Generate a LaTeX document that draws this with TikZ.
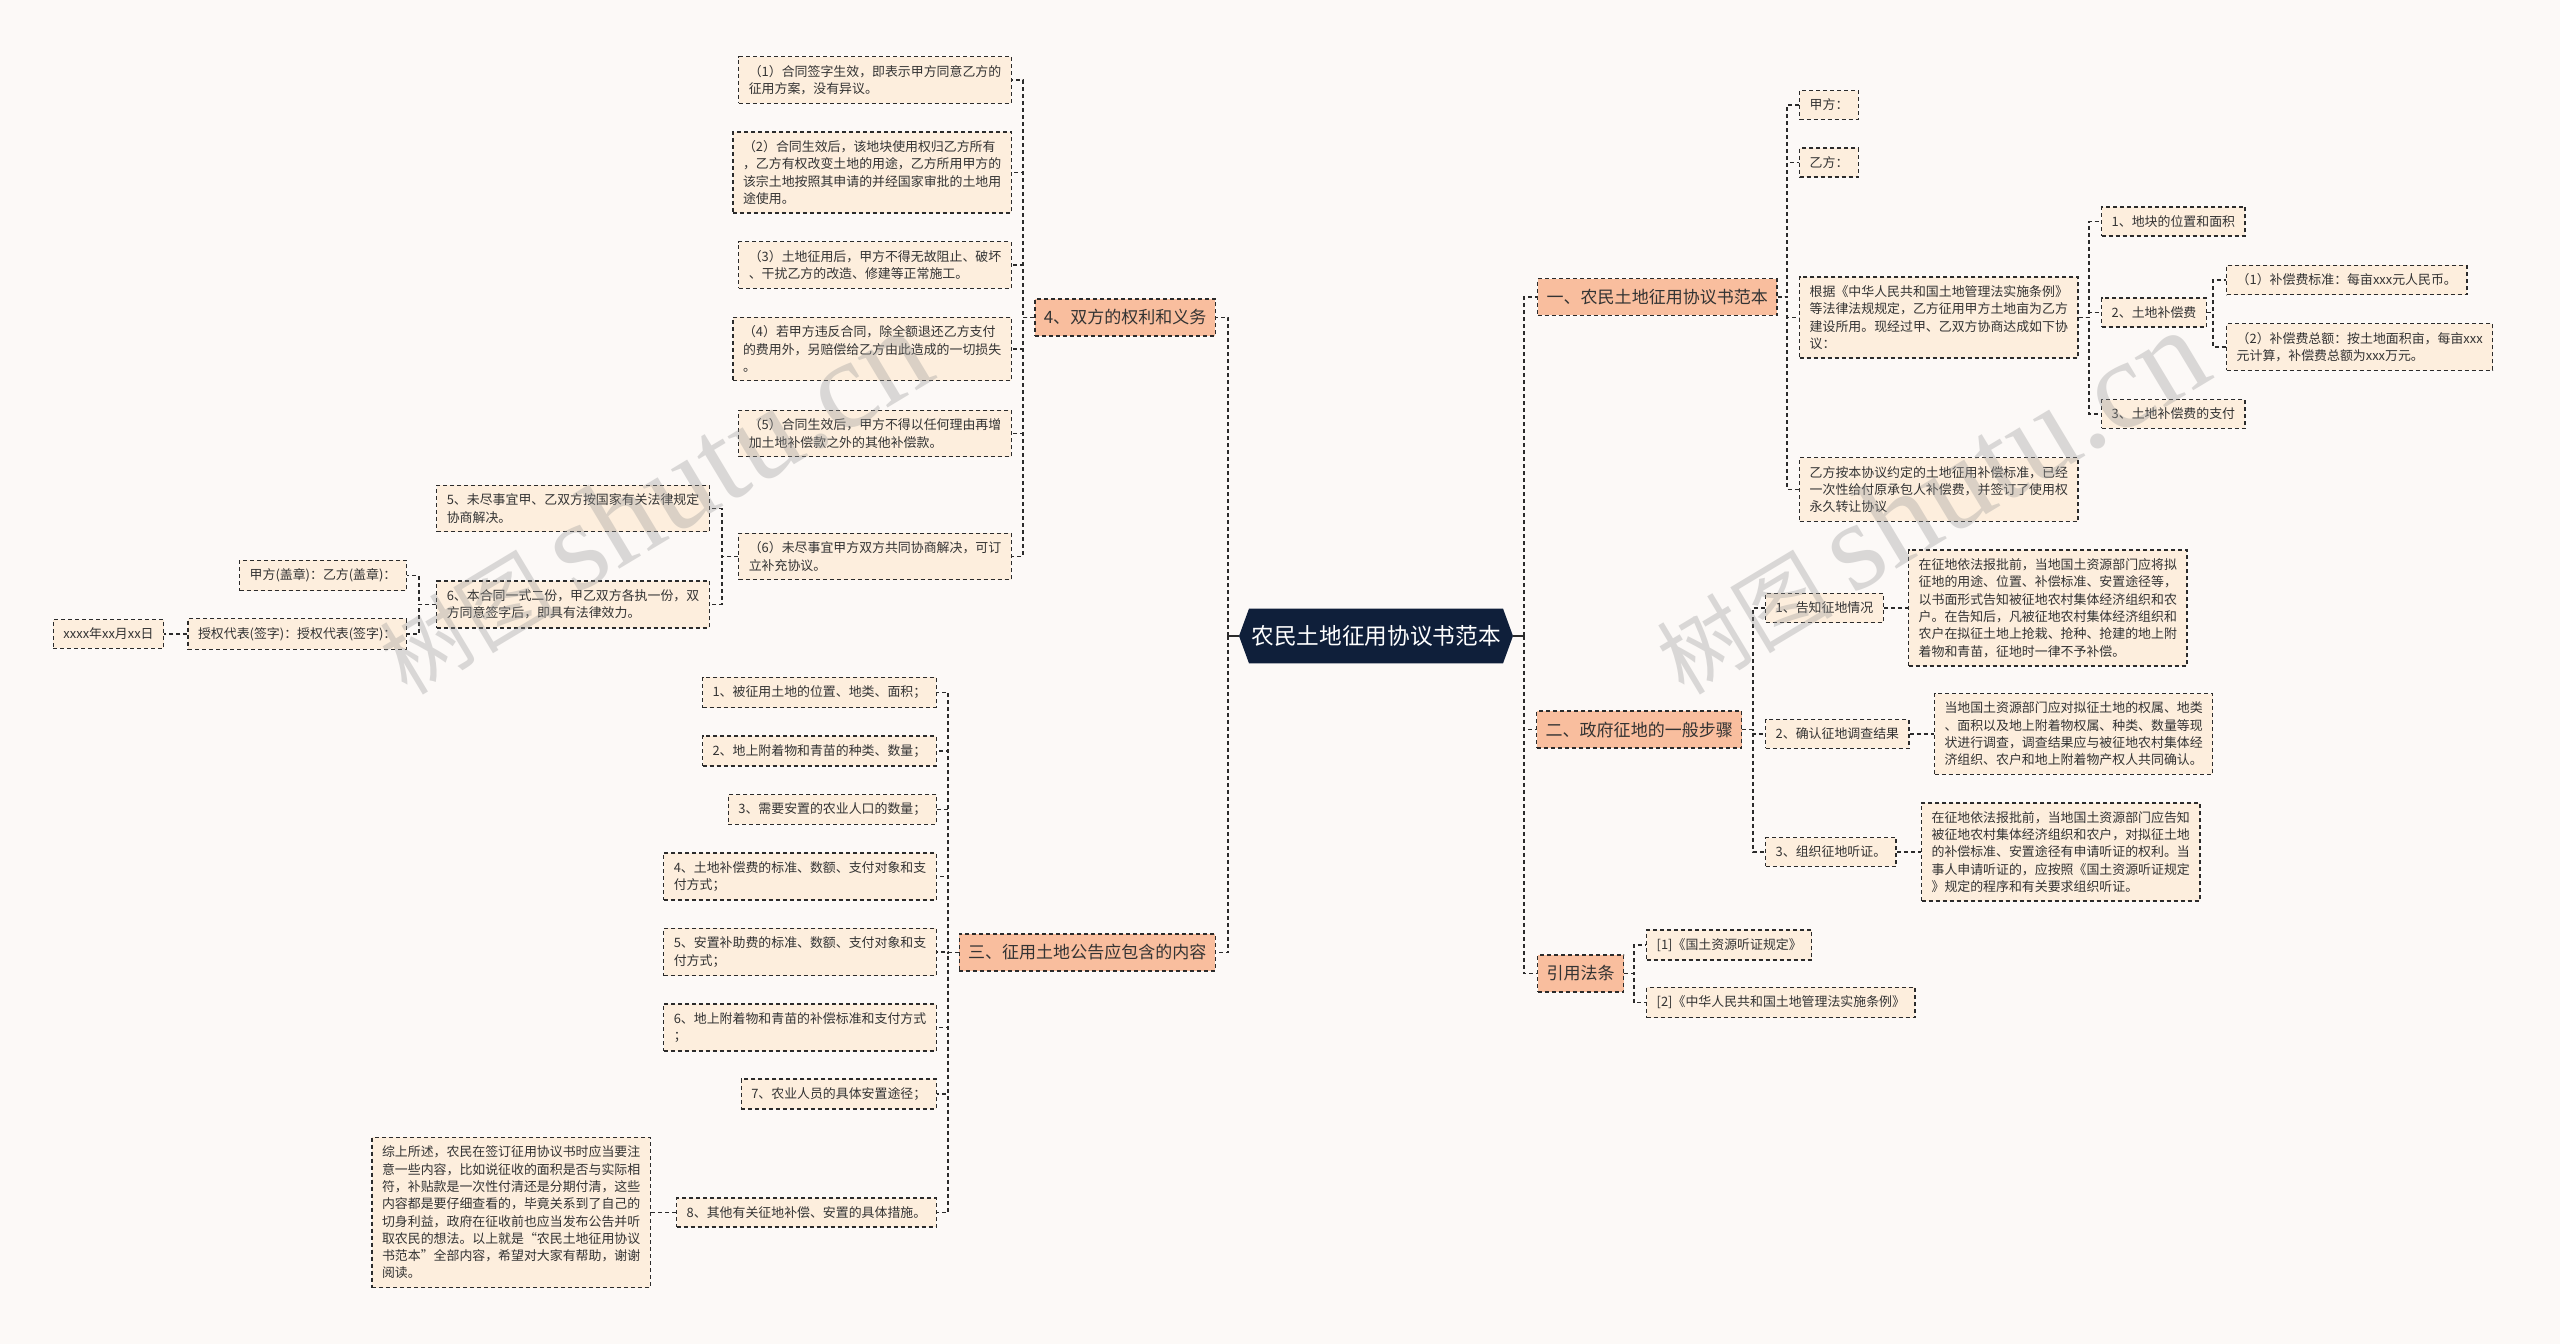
\documentclass[tikz,border=0pt]{standalone}
\usepackage{fontspec}
\setmainfont{Noto Sans CJK SC}
\newfontfamily\markfont{Liberation Serif}
\usetikzlibrary{shapes.symbols,positioning,calc}

\definecolor{paper}{HTML}{FCF9F7}
\definecolor{leaffill}{HTML}{FDEEDD}
\definecolor{topicfill}{HTML}{F9BE9E}
\definecolor{rootfill}{HTML}{0F1F3A}
\definecolor{inkline}{HTML}{2B2B2B}
\definecolor{inktext}{HTML}{333333}

\tikzset{
  leaf/.style={draw=inkline, dash pattern=on 0.08cm off 0.06cm, line width=0.8pt,
    fill=leaffill, text=inktext, align=left, inner xsep=0.2cm, inner ysep=0.17cm,
    font=\fontsize{7.35pt}{9.84pt}\selectfont},
  topic/.style={leaf, fill=topicfill, inner xsep=0.18cm, inner ysep=0.21cm,
    font=\fontsize{9.68pt}{11.5pt}\selectfont},
  rootbox/.style={signal, signal to=west and east, signal pointer angle=140,
    fill=rootfill, text=white, minimum width=5.48cm, minimum height=1.1cm,
    inner xsep=0pt, font=\fontsize{12.9pt}{14pt}\selectfont},
  link/.style={draw=inkline, dash pattern=on 0.08cm off 0.06cm, line width=0.8pt},
  rootlink/.style={draw=inkline, line width=1pt},
  wmark/.style={text=black!40, text opacity=0.35, rotate=31, inner sep=0pt}
}

\begin{document}
\begin{tikzpicture}[x=0.02cm, y=-0.02cm]

    \useasboundingbox (0,0) rectangle (2560,1344);
    \fill[paper] (0,0) rectangle (2560,1344);

    % Root
    \node[rootbox] (root) at (1376,636) {农民土地征用协议书范本};

    % Main topics
    \node[topic, anchor=east] (p4) at (1216,317.5) {4、双方的权利和义务};
    \node[topic, anchor=east] (p3) at (1216,952.5) {三、征用土地公告应包含的内容};
    \node[topic, anchor=west] (p1) at (1537,297) {一、农民土地征用协议书范本};
    \node[topic, anchor=west] (p2) at (1536,729.5) {二、政府征地的一般步骤};
    \node[topic, anchor=west] (p5) at (1537,973.5) {引用法条};

    % Rights and duties
    \node[leaf, anchor=east] (a1) at (1012,80) {（1）合同签字生效，即表示甲方同意乙方的\\征用方案，没有异议。};
    \node[leaf, anchor=east] (a2) at (1012,172.5) {（2）合同生效后，该地块使用权归乙方所有\\，乙方有权改变土地的用途，乙方所用甲方的\\该宗土地按照其申请的并经国家审批的土地用\\途使用。};
    \node[leaf, anchor=east] (a3) at (1012,265) {（3）土地征用后，甲方不得无故阻止、破坏\\、干扰乙方的改造、修建等正常施工。};
    \node[leaf, anchor=east] (a4) at (1012,349) {（4）若甲方违反合同，除全额退还乙方支付\\的费用外，另赔偿给乙方由此造成的一切损失\\。};
    \node[leaf, anchor=east] (a5) at (1012,433.5) {（5）合同生效后，甲方不得以任何理由再增\\加土地补偿款之外的其他补偿款。};
    \node[leaf, anchor=east] (a6) at (1012,556.5) {（6）未尽事宜甲方双方共同协商解决，可订\\立补充协议。};
    \node[leaf, anchor=east] (a61) at (710,508.5) {5、未尽事宜甲、乙双方按国家有关法律规定\\协商解决。};
    \node[leaf, anchor=east] (a62) at (710,604.5) {6、本合同一式二份，甲乙双方各执一份，双\\方同意签字后，即具有法律效力。};
    \node[leaf, anchor=east] (seal) at (407,575.5) {甲方(盖章)：乙方(盖章)：};
    \node[leaf, anchor=east] (sign) at (407,634) {授权代表(签字)：授权代表(签字)：};
    \node[leaf, left=0.46cm of sign] (date) {xxxx年xx月xx日};

    % Notice contents
    \node[leaf, anchor=east] (b1) at (937,692.5) {1、被征用土地的位置、地类、面积；};
    \node[leaf, anchor=east] (b2) at (937,751) {2、地上附着物和青苗的种类、数量；};
    \node[leaf, anchor=east] (b3) at (937,809.5) {3、需要安置的农业人口的数量；};
    \node[leaf, anchor=east] (b4) at (937,876.5) {4、土地补偿费的标准、数额、支付对象和支\\付方式；};
    \node[leaf, anchor=east] (b5) at (937,952) {5、安置补助费的标准、数额、支付对象和支\\付方式；};
    \node[leaf, anchor=east] (b6) at (937,1027.5) {6、地上附着物和青苗的补偿标准和支付方式\\；};
    \node[leaf, anchor=east] (b7) at (937,1094) {7、农业人员的具体安置途径；};
    \node[leaf, anchor=east] (b8) at (937,1212.5) {8、其他有关征地补偿、安置的具体措施。};
    \node[leaf, left=0.5cm of b8] (summary) {综上所述，农民在签订征用协议书时应当要注\\意一些内容，比如说征收的面积是否与实际相\\符，补贴款是一次性付清还是分期付清，这些\\内容都是要仔细查看的，毕竟关系到了自己的\\切身利益，政府在征收前也应当发布公告并听\\取农民的想法。以上就是“农民土地征用协议\\书范本”全部内容，希望对大家有帮助，谢谢\\阅读。};

    % Agreement template
    \node[leaf, anchor=west] (c1) at (1799,105) {甲方：};
    \node[leaf, anchor=west] (c2) at (1799,162.5) {乙方：};
    \node[leaf, anchor=west] (c3) at (1799,317.5) {根据《中华人民共和国土地管理法实施条例》\\等法律法规规定，乙方征用甲方土地亩为乙方\\建设所用。现经过甲、乙双方协商达成如下协\\议：};
    \node[leaf, anchor=west] (c4) at (1799,489.5) {乙方按本协议约定的土地征用补偿标准，已经\\一次性给付原承包人补偿费，并签订了使用权\\永久转让协议};
    \node[leaf, anchor=west] (c31) at (2101,221.5) {1、地块的位置和面积};
    \node[leaf, anchor=west] (c32) at (2101,312.5) {2、土地补偿费};
    \node[leaf, anchor=west] (c33) at (2101,414) {3、土地补偿费的支付};
    \node[leaf, anchor=west] (fee1) at (2226,280) {（1）补偿费标准：每亩xxx元人民币。};
    \node[leaf, anchor=west] (fee2) at (2226,347) {（2）补偿费总额：按土地面积亩，每亩xxx\\元计算，补偿费总额为xxx万元。};

    % Government steps
    \node[leaf, anchor=west] (d1) at (1765,608) {1、告知征地情况};
    \node[leaf, anchor=west] (d2) at (1765,734) {2、确认征地调查结果};
    \node[leaf, anchor=west] (d3) at (1765,852) {3、组织征地听证。};
    \node[leaf, right=0.48cm of d1] (d1x) {在征地依法报批前，当地国土资源部门应将拟\\征地的用途、位置、补偿标准、安置途径等，\\以书面形式告知被征地农村集体经济组织和农\\户。在告知后，凡被征地农村集体经济组织和\\农户在拟征土地上抢栽、抢种、抢建的地上附\\着物和青苗，征地时一律不予补偿。};
    \node[leaf, right=0.48cm of d2] (d2x) {当地国土资源部门应对拟征土地的权属、地类\\、面积以及地上附着物权属、种类、数量等现\\状进行调查，调查结果应与被征地农村集体经\\济组织、农户和地上附着物产权人共同确认。};
    \node[leaf, right=0.48cm of d3] (d3x) {在征地依法报批前，当地国土资源部门应告知\\被征地农村集体经济组织和农户，对拟征土地\\的补偿标准、安置途径有申请听证的权利。当\\事人申请听证的，应按照《国土资源听证规定\\》规定的程序和有关要求组织听证。};

    % Cited laws
    \node[leaf, anchor=west] (r1) at (1646,945) {[1]《国土资源听证规定》};
    \node[leaf, anchor=west] (r2) at (1646,1002.5) {[2]《中华人民共和国土地管理法实施条例》};

    % Trunk
    \coordinate (trunkL) at (1228,636);
    \coordinate (trunkR) at (1524,636);
    \draw[rootlink] (root.west) -- (trunkL);
    \draw[rootlink] (root.east) -- (trunkR);
    \foreach \t in {p4,p3} \draw[link] (trunkL) |- (\t.east);
    \foreach \t in {p1,p2,p5} \draw[link] (trunkR) |- (\t.west);

    % Brackets
    \coordinate (k4) at (1023,0);
    \coordinate (k46) at (722,0);
    \coordinate (k462) at (419,0);
    \coordinate (k3) at (948,0);
    \coordinate (k1) at (1787,0);
    \coordinate (k13) at (2089,0);
    \coordinate (k132) at (2213,0);
    \coordinate (k2) at (1753,0);
    \coordinate (k5) at (1634,0);

    \foreach \c in {a1,a2,a3,a4,a5,a6} \draw[link] (p4.west) -- (p4.west -| k4) |- (\c.east);
    \foreach \c in {a61,a62} \draw[link] (a6.west) -- (a6.west -| k46) |- (\c.east);
    \foreach \c in {seal,sign} \draw[link] (a62.west) -- (a62.west -| k462) |- (\c.east);
    \draw[link] (sign) -- (date);
    \foreach \c in {b1,b2,b3,b4,b5,b6,b7,b8} \draw[link] (p3.west) -- (p3.west -| k3) |- (\c.east);
    \draw[link] (b8) -- (summary);

    \foreach \c in {c1,c2,c3,c4} \draw[link] (p1.east) -- (p1.east -| k1) |- (\c.west);
    \foreach \c in {c31,c32,c33} \draw[link] (c3.east) -- (c3.east -| k13) |- (\c.west);
    \foreach \c in {fee1,fee2} \draw[link] (c32.east) -- (c32.east -| k132) |- (\c.west);
    \foreach \c in {d1,d2,d3} \draw[link] (p2.east) -- (p2.east -| k2) |- (\c.west);
    \draw[link] (d1) -- (d1x);
    \draw[link] (d2) -- (d2x);
    \draw[link] (d3) -- (d3x);
    \foreach \c in {r1,r2} \draw[link] (p5.east) -- (p5.east -| k5) |- (\c.west);

    % Watermarks
    \node[wmark] (markL) at (653,502) {\fontsize{50pt}{50pt}\selectfont 树图\ \markfont\fontsize{72pt}{72pt}\selectfont shutu.cn};
    \node[wmark] (markR) at (1930,502) {\fontsize{50pt}{50pt}\selectfont 树图\ \markfont\fontsize{72pt}{72pt}\selectfont shutu.cn};

\end{tikzpicture}
\end{document}
